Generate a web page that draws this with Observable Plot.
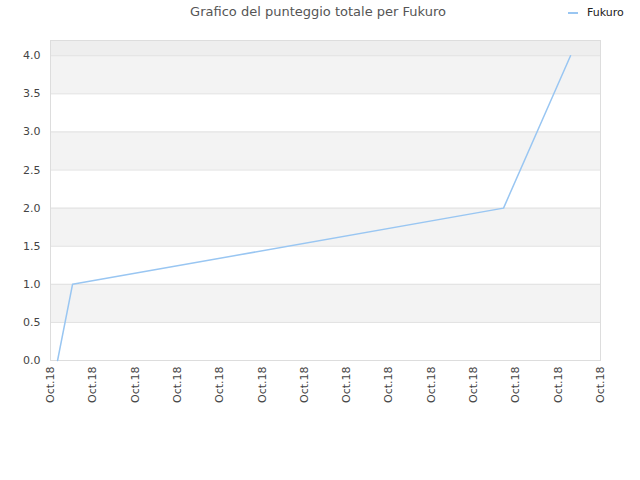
<!DOCTYPE html>
<html>
<head>
<meta charset="utf-8">
<script src="https://cdn.jsdelivr.net/npm/d3@7"></script>
<script src="https://cdn.jsdelivr.net/npm/@observablehq/plot@0.6"></script>
<style>
  body { margin: 0; background: #fff; font-family: "DejaVu Sans", sans-serif; }
  #wrap { position: relative; width: 640px; height: 480px; }
  #title { position: absolute; left: 0; width: 636px; top: 4px; text-align: center; font-size: 13px; color: #555; }
  #legend { position: absolute; left: 568px; top: 6px; font-size: 11px; color: #222; display: flex; align-items: center; }
  #legend span.sw { display: inline-block; width: 10px; height: 2px; background: #99c6f2; margin-right: 9px; }
</style>
</head>
<body>
<div id="wrap">
  <div id="title">Grafico del punteggio totale per Fukuro</div>
  <div id="legend"><span class="sw"></span>Fukuro</div>
</div>
<script>
const seriesName = "Fukuro";
const dates = ["2018-10-01T04:00", "2018-10-01T12:30", "2018-10-11T17:00", "2018-10-13T07:00"];
const scores = [0, 1, 2, 4];
const yTicks = [0, 0.5, 1, 1.5, 2, 2.5, 3, 3.5, 4];
const bandStarts = [0.5, 1.5, 2.5, 3.5];
const xStart = "2018-10-01T00:00";
const xEnd = "2018-10-14T00:00";
const xTickLabel = "Oct.18";

const data = dates.map((d, i) => ({date: new Date(d), score: scores[i]}));
const bands = bandStarts.map(b => ({y1: b, y2: b + 0.5}));
const x0 = new Date(xStart), x1 = new Date(xEnd);
const xTicks = d3.timeDay.range(x0, d3.timeDay.offset(x1, 1));

const chart = Plot.plot({
  width: 640,
  height: 480,
  marginTop: 40,
  marginLeft: 50,
  marginRight: 40,
  marginBottom: 120,
  style: {fontFamily: "DejaVu Sans, sans-serif", fontSize: "11px", color: "#444", background: "transparent"},
  x: {type: "time", domain: [x0, x1], ticks: xTicks, tickFormat: () => xTickLabel, tickRotate: -90, tickSize: 0, tickPadding: 6, label: null},
  y: {domain: [0, 4.2], ticks: yTicks, tickFormat: d => d.toFixed(1), tickSize: 0, tickPadding: 10, label: null},
  marks: [
    Plot.rect([{y1: 4, y2: 4.2}], {y1: "y1", y2: "y2", fill: "#eeeeee"}),
    Plot.rect(bands, {y1: "y1", y2: "y2", fill: "#f3f3f3"}),
    Plot.ruleY(yTicks, {stroke: "#e0e0e0"}),
    Plot.frame({stroke: "#dddddd"}),
    Plot.line(data, {x: "date", y: "score", stroke: "#99c6f2", strokeWidth: 1.5}),
  ]
});
document.getElementById("wrap").prepend(chart);
chart.style.position = "absolute";
chart.style.left = "0";
chart.style.top = "0";
</script>
</body>
</html>
